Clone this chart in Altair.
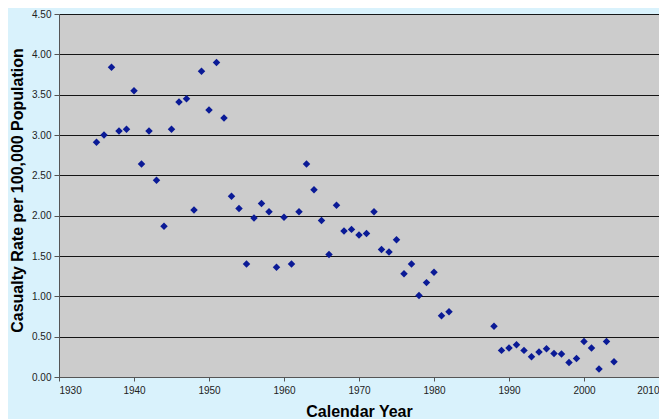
import altair as alt
import pandas as pd

years = [1935, 1936, 1937, 1938, 1939, 1940, 1941, 1942, 1943, 1944,
         1945, 1946, 1947, 1948, 1949, 1950, 1951, 1952, 1953, 1954,
         1955, 1956, 1957, 1958, 1959, 1960, 1961, 1962, 1963, 1964,
         1965, 1966, 1967, 1968, 1969, 1970, 1971, 1972, 1973, 1974,
         1975, 1976, 1977, 1978, 1979, 1980, 1981, 1982,
         1988, 1989, 1990, 1991, 1992, 1993, 1994, 1995, 1996, 1997,
         1998, 1999, 2000, 2001, 2002, 2003, 2004]
rates = [2.91, 3.00, 3.84, 3.05, 3.07, 3.55, 2.64, 3.05, 2.44, 1.87,
         3.07, 3.41, 3.45, 2.07, 3.79, 3.31, 3.90, 3.21, 2.24, 2.09,
         1.40, 1.97, 2.15, 2.05, 1.36, 1.98, 1.40, 2.05, 2.64, 2.32,
         1.94, 1.52, 2.13, 1.81, 1.83, 1.76, 1.78, 2.05, 1.58, 1.55,
         1.70, 1.28, 1.40, 1.01, 1.17, 1.30, 0.76, 0.81,
         0.63, 0.33, 0.36, 0.40, 0.33, 0.25, 0.31, 0.35, 0.29, 0.285,
         0.18, 0.23, 0.44, 0.36, 0.10, 0.44, 0.19]

x_ticks = [1930, 1940, 1950, 1960, 1970, 1980, 1990, 2000, 2010]
y_ticks = [0.0, 0.5, 1.0, 1.5, 2.0, 2.5, 3.0, 3.5, 4.0, 4.5]

df = pd.DataFrame({"year": years, "rate": rates})

font = "Liberation Sans"

chart = alt.Chart(df).mark_point(
    shape="diamond", filled=True, size=56, color="#0a1a96", opacity=1
).encode(
    x=alt.X("year:Q",
            scale=alt.Scale(domain=[1930, 2010], nice=False, zero=False),
            axis=alt.Axis(title="Calendar Year", values=x_ticks, format="d",
                          grid=False, tickSize=4, labelPadding=4,
                          labelFont=font, labelFontSize=10, labelColor="#222222",
                          titleFont=font, titleFontSize=16, titleFontWeight="bold",
                          titleColor="#000000", titleX=300, titleY=34,
                          titleBaseline="middle", titleAlign="center",
                          domainColor="#555555", tickColor="#555555")),
    y=alt.Y("rate:Q",
            scale=alt.Scale(domain=[0, 4.5], nice=False),
            axis=alt.Axis(title="Casualty Rate per 100,000 Population",
                          values=y_ticks, format=".2f",
                          grid=True, gridColor="#000000", gridWidth=1, gridOpacity=0.9,
                          tickSize=5, labelPadding=3,
                          labelFont=font, labelFontSize=10, labelColor="#222222",
                          titleFont=font, titleFontSize=16, titleFontWeight="bold",
                          titleColor="#000000", titleX=-42, titleY=176,
                          titleBaseline="middle", titleAlign="center",
                          domainColor="#555555", tickColor="#555555")),
).properties(
    width=600, height=363,
    autosize=alt.AutoSizeParams(type="none"),
    padding={"left": 51, "top": 6, "right": 0, "bottom": 42},
    background="#d9f2fc",
).configure_view(fill="#cccccc", stroke="transparent")

chart.save("out.html", embed_options={"renderer": "svg", "actions": False})
